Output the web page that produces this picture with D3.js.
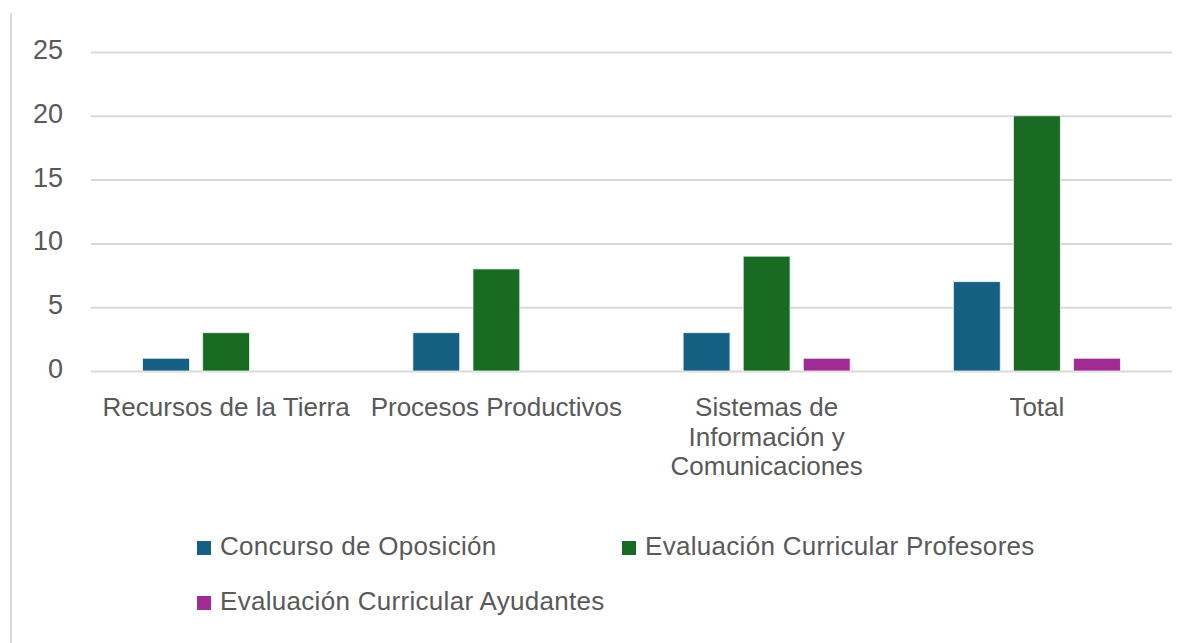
<!DOCTYPE html>
<html><head><meta charset="utf-8">
<script src="https://cdn.jsdelivr.net/npm/d3@7"></script>
<style>
html,body{margin:0;padding:0;background:#fff;}
text{font-family:"Liberation Sans",Arial,sans-serif;fill:#595959;}
</style></head>
<body>
<svg id="chart" width="1196" height="643"></svg>
<script>
const categories = ["Recursos de la Tierra", "Procesos Productivos", "Sistemas de Información y Comunicaciones", "Total"];
const categoryLines = [["Recursos de la Tierra"], ["Procesos Productivos"], ["Sistemas de", "Información y", "Comunicaciones"], ["Total"]];
const seriesNames = ["Concurso de Oposición", "Evaluación Curricular Profesores", "Evaluación Curricular Ayudantes"];
const concurso = [1, 3, 3, 7];
const profesores = [3, 8, 9, 20];
const ayudantes = [0, 0, 1, 1];
const yTicks = [0, 5, 10, 15, 20, 25];
const colors = ["#156082", "#196B24", "#A02B93"];

(function() {
const seriesValues = [concurso, profesores, ayudantes];
const svg = d3.select("#chart");
const mLeft = 91, mRight = 1172, mTop = 52, mBottom = 371;

svg.append("line").attr("x1", 11).attr("x2", 11).attr("y1", 13).attr("y2", 643)
  .attr("stroke", "#d9d9d9").attr("stroke-width", 2);

const y = d3.scaleLinear().domain([0, 25]).range([mBottom, mTop]);
const x0 = d3.scaleBand().domain(categories).range([mLeft, mRight]).paddingInner(0.382).paddingOuter(0.191);
const x1 = d3.scaleBand().domain(seriesNames).range([0, x0.bandwidth()]).paddingInner(0.22);

const yAxis = d3.axisLeft(y).tickValues(yTicks).tickSize(-(mRight - mLeft)).tickPadding(0);
const gy = svg.append("g").attr("transform", `translate(${mLeft},0)`).call(yAxis);
gy.select(".domain").remove();
gy.selectAll(".tick line").attr("stroke", "#d9d9d9").attr("stroke-width", 2);
gy.selectAll(".tick text").attr("x", -28).attr("dy", "6.5px").attr("text-anchor", "end")
  .style("font-size", "27px").style("font-family", "'Liberation Sans', sans-serif").attr("fill", "#595959");

const groups = svg.append("g").selectAll("g").data(categories).join("g")
  .attr("transform", d => `translate(${x0(d)},0)`);
groups.selectAll("rect").data((d, i) => seriesNames.map((s, j) => ({s, j, v: seriesValues[j][i]})).filter(e => e.v > 0))
  .join("rect")
  .attr("x", d => x1(d.s)).attr("width", x1.bandwidth())
  .attr("y", d => y(d.v)).attr("height", d => y(0) - y(d.v))
  .attr("fill", d => colors[d.j]).attr("stroke", "#eef3f5").attr("stroke-width", 0.8);

const cl = svg.append("g").selectAll("text").data(categories).join("text")
  .attr("x", d => x0(d) + x0.bandwidth() / 2).attr("y", 416)
  .attr("text-anchor", "middle")
  .style("font-size", "26px");
cl.each(function(d, i) {
  d3.select(this).selectAll("tspan").data(categoryLines[i]).join("tspan")
    .attr("x", x0(d) + x0.bandwidth() / 2).attr("dy", (t, k) => k === 0 ? 0 : 29.5).text(t => t);
});

const legendPos = [[197, 555], [622, 555], [197, 610]];
const lg = svg.append("g").selectAll("g").data(seriesNames).join("g")
  .attr("transform", (d, i) => `translate(${legendPos[i][0]},${legendPos[i][1]})`);
lg.append("rect").attr("x", 0).attr("y", -14).attr("width", 14).attr("height", 14)
  .attr("fill", (d, i) => colors[i]);
lg.append("text").attr("x", 23).attr("y", 0)
  .style("font-size", "26px").style("letter-spacing", "0.3px").text(d => d);
})();
</script>
</body></html>
